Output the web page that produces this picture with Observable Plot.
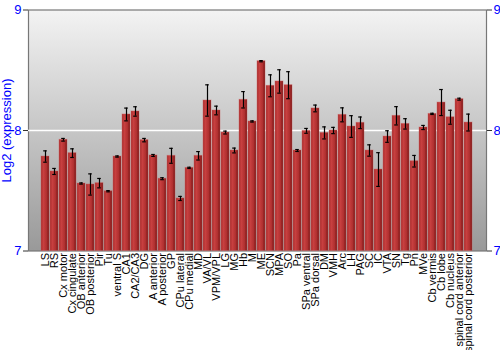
<!DOCTYPE html>
<html>
<head>
<meta charset="utf-8">
<script src="https://cdn.jsdelivr.net/npm/d3@7"></script>
<script src="https://cdn.jsdelivr.net/npm/@observablehq/plot@0.6"></script>
<style>
  body { margin: 0; background: #fff; }
  #chart svg { display: block; }
</style>
</head>
<body>
<div id="chart"></div>
<script>
const regions = ["LS","RS","Cx motor","Cx cingulate","OB anterior","OB posterior","Pir","Tu","ventral S","CA1","CA2/CA3","DG","A anterior","A posterior","GP","CPu lateral","CPu medial","MD","VA/VL","VPM/VPL","LG","MG","Hb","M","ME","SCN","MPA","SO","Pa","SPa ventral","SPa dorsal","DM","VMH","Arc","LH","PAG","SC","IC","VTA","SN","Tg","Pn","MVe","Cb vermis","Cb lobe","Cb nucleus","spinal cord anterior","spinal cord posterior"];
const values = [7.784,7.66,7.923,7.812,7.56,7.552,7.563,7.496,7.784,8.133,8.158,7.92,7.793,7.60,7.79,7.436,7.69,7.79,8.249,8.166,7.983,7.834,8.255,8.075,8.575,8.371,8.407,8.376,7.834,7.997,8.183,7.98,8.0,8.13,8.033,8.064,7.834,7.676,7.95,8.122,8.055,7.745,8.025,8.138,8.232,8.11,8.26,8.066];
const errors = [0.047,0.025,0.011,0.036,0.005,0.088,0.039,0.005,0.005,0.053,0.039,0.014,0.008,0.008,0.062,0.017,0.005,0.035,0.13,0.036,0.012,0.02,0.068,0.005,0.005,0.091,0.097,0.112,0.008,0.02,0.028,0.05,0.026,0.058,0.09,0.048,0.047,0.14,0.048,0.076,0.043,0.048,0.017,0.005,0.108,0.058,0.008,0.07];
const yTicks = [7, 8, 9];
const yLabel = "Log2 (expression)";

const data = regions.map((r, i) => ({region: r, value: values[i], err: errors[i]}));

const plot = Plot.plot({
  width: 500,
  height: 350,
  marginLeft: 28,
  marginRight: 14,
  marginTop: 9.5,
  marginBottom: 99.5,
  style: {fontFamily: "'Liberation Sans', Arial, sans-serif", background: "white"},
  x: {domain: regions, padding: 0.09, label: null},
  y: {domain: [7, 9], label: null},
  marks: [
    Plot.frame({fill: "url(#bgGrad)", stroke: "#777", strokeWidth: 1.2}),
    Plot.ruleY([8], {stroke: "white", strokeWidth: 1.5}),
    Plot.barY(data, {x: "region", y1: 7, y2: "value", fill: "url(#barGrad)", stroke: "#d06060", strokeOpacity: 0.5, strokeWidth: 0.8}),
    Plot.ruleX(data, {x: "region", y1: d => d.value - d.err, y2: d => d.value + d.err, stroke: "black", strokeWidth: 1.2}),
    Plot.tickY(data, {x: "region", y: d => d.value - d.err, stroke: "black", strokeWidth: 1.2, insetLeft: 2.2, insetRight: 2.2}),
    Plot.tickY(data, {x: "region", y: d => d.value + d.err, stroke: "black", strokeWidth: 1.2, insetLeft: 2.2, insetRight: 2.2}),
    Plot.axisY({anchor: "left", ticks: yTicks, tickFormat: d3.format("d"), tickSize: 5, tickPadding: 2, fontSize: 13, color: "blue", stroke: "#333",
      label: yLabel, labelAnchor: "center", labelArrow: "none", labelOffset: 27}),
    Plot.axisY({anchor: "right", ticks: yTicks, tickFormat: d3.format("d"), tickSize: 5, tickPadding: 2, fontSize: 13, color: "blue", stroke: "#333", label: null}),
    Plot.axisX({tickRotate: -90, tickSize: 0, tickPadding: 2, fontSize: 11, color: "black", label: null})
  ]
});

// gradients
const ns = "http://www.w3.org/2000/svg";
const defs = document.createElementNS(ns, "defs");
defs.innerHTML = `
  <linearGradient id="bgGrad" x1="0" y1="0" x2="0" y2="1">
    <stop offset="0" stop-color="#f3f3f3"/>
    <stop offset="1" stop-color="#999999"/>
  </linearGradient>
  <linearGradient id="barGrad" x1="0" y1="0" x2="1" y2="0">
    <stop offset="0" stop-color="#a82c2c"/>
    <stop offset="0.3" stop-color="#c84040"/>
    <stop offset="0.7" stop-color="#b03030"/>
    <stop offset="1" stop-color="#761414"/>
  </linearGradient>`;
plot.insertBefore(defs, plot.firstChild);
document.getElementById("chart").appendChild(plot);
</script>
</body>
</html>
